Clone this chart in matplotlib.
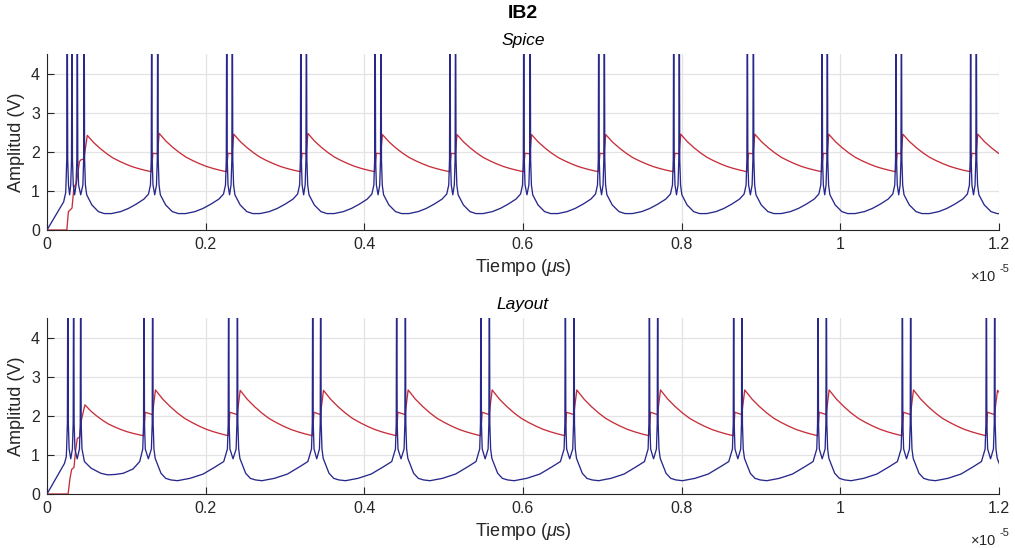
import numpy as np
import matplotlib
matplotlib.use("Agg")
import matplotlib.pyplot as plt
from matplotlib import font_manager

# ---------------------------------------------------------------------------
# Data (time in units of 1e-5 s, amplitude in V)
# ---------------------------------------------------------------------------
# Spike times of the blue trace, one list per burst
spice_bursts = [
    [0.0255, 0.0315, 0.0382, 0.0468],
    [0.1320, 0.1396],
    [0.2266, 0.2336],
    [0.3200, 0.3270],
    [0.4136, 0.4210],
    [0.5080, 0.5150],
    [0.6010, 0.6090],
    [0.6955, 0.7025],
    [0.7900, 0.7970],
    [0.8828, 0.8904],
    [0.9770, 0.9836],
    [1.0702, 1.0770],
    [1.1643, 1.1714],
]
layout_bursts = [
    [0.0263, 0.0336, 0.0425],
    [0.1223, 0.1332],
    [0.2290, 0.2400],
    [0.3350, 0.3450],
    [0.4408, 0.4517],
    [0.5470, 0.5576],
    [0.6534, 0.6643],
    [0.7593, 0.7698],
    [0.8656, 0.8760],
    [0.9719, 0.9824],
    [1.0782, 1.0887],
    [1.1841, 1.1946],
]

# Start-up ramp of the blue trace before the first spike
spice_blue_start_t = [0.0, 0.0210, 0.0235]
spice_blue_start_v = [0.0, 0.72, 0.95]
layout_blue_start_t = [0.0, 0.0220, 0.0243]
layout_blue_start_v = [0.0, 0.78, 0.95]

# Blue trace between bursts: fraction of the gap -> voltage
spice_gap_frac = [0.0, 0.02, 0.10, 0.20, 0.29, 0.40, 0.54, 0.66, 0.78, 0.90, 0.97, 1.0]
spice_gap_volt = [1.15, 0.90, 0.64, 0.47, 0.42, 0.42, 0.47, 0.55, 0.66, 0.79, 0.92, 1.15]
layout_gap_frac = [0.0, 0.017, 0.053, 0.096, 0.16, 0.23, 0.32, 0.49, 0.67, 0.84, 0.95, 1.0]
layout_gap_volt = [1.15, 0.91, 0.74, 0.53, 0.40, 0.36, 0.34, 0.40, 0.51, 0.70, 0.83, 1.15]
layout_first_gap_frac = [0.0, 0.04, 0.15, 0.31, 0.42, 0.55, 0.68, 0.84, 0.95, 1.0]
layout_first_gap_volt = [1.15, 0.83, 0.66, 0.53, 0.49, 0.50, 0.53, 0.64, 0.83, 1.15]

# Spike waveform around each spike time
spike_dt = [-0.0016, -0.0006, 0.0, 0.0006, 0.0016]
spike_v = [1.15, 1.8, 6.5, 1.8, 1.15]
intra_burst_trough = 0.90

# Red trace: start-up up to the first peak
spice_red_start_t = [0.0, 0.0250, 0.0270, 0.0315, 0.0340, 0.0370, 0.0410, 0.0425, 0.0465, 0.0508]
spice_red_start_v = [0.0, 0.0, 0.47, 0.56, 1.10, 1.20, 1.75, 1.79, 1.82, 2.42]
layout_red_start_t = [0.0, 0.0266, 0.0290, 0.0311, 0.0340, 0.0360, 0.0382, 0.0412, 0.0435, 0.0478]
layout_red_start_v = [0.0, 0.0, 0.40, 0.63, 0.68, 1.10, 1.42, 1.46, 1.90, 2.28]

# Red trace levels for bursts 2..N
spice_red_trough = [1.49, 1.49, 1.49, 1.49, 1.49, 1.49, 1.49, 1.49, 1.49, 1.49, 1.49, 1.49]
spice_red_step = [1.96, 1.96, 1.96, 1.96, 1.96, 1.96, 1.96, 1.96, 1.96, 1.96, 1.96, 1.96]
spice_red_step_end = [1.95, 1.95, 1.95, 1.95, 1.95, 1.95, 1.95, 1.95, 1.95, 1.95, 1.95, 1.95]
spice_red_peak = [2.47, 2.45, 2.47, 2.44, 2.44, 2.44, 2.44, 2.45, 2.45, 2.45, 2.45, 2.45]
spice_red_rise = 0.0018

layout_red_trough = [1.49, 1.49, 1.49, 1.49, 1.49, 1.49, 1.49, 1.49, 1.49, 1.49, 1.49]
layout_red_step = [2.09, 2.09, 2.09, 2.09, 2.09, 2.09, 2.09, 2.09, 2.09, 2.09, 2.09]
layout_red_step_end = [2.03, 2.03, 2.03, 2.03, 2.03, 2.03, 2.03, 2.03, 2.03, 2.03, 2.03]
layout_red_peak = [2.66, 2.65, 2.65, 2.66, 2.66, 2.66, 2.66, 2.66, 2.66, 2.66, 2.65]
layout_red_rise = 0.0035

# Red recovery between bursts: fraction of gap -> normalised level (peak=1, trough=0)
decay_frac = [0.0, 0.1, 0.2, 0.3, 0.4, 0.5, 0.6, 0.7, 0.8, 0.9, 1.0]
decay_level = [1.0, 0.80, 0.64, 0.50, 0.38, 0.29, 0.21, 0.14, 0.086, 0.04, 0.0]

x_ticks = [0, 0.2, 0.4, 0.6, 0.8, 1.0, 1.2]
x_tick_labels = ["0", "0.2", "0.4", "0.6", "0.8", "1", "1.2"]
y_ticks = [0, 1, 2, 3, 4]
T_END = 1.2


def build_blue(bursts, start_t, start_v, gap_shapes):
    ts, vs = list(start_t), list(start_v)
    period = np.mean(np.diff([b[0] for b in bursts]))
    for i, burst in enumerate(bursts):
        for j, s in enumerate(burst):
            ts += [s + d for d in spike_dt]
            vs += spike_v
            if j < len(burst) - 1:
                ts.append(0.5 * (s + burst[j + 1]))
                vs.append(intra_burst_trough)
        a = burst[-1] + spike_dt[-1]
        nxt = bursts[i + 1][0] if i + 1 < len(bursts) else burst[0] + period
        b = nxt + spike_dt[0]
        frac, volt = gap_shapes(i)
        ts += [a + f * (b - a) for f in frac[1:-1]]
        vs += volt[1:-1]
    return np.array(ts), np.array(vs)


def build_red(bursts, start_t, start_v, trough, step, step_end, peak, rise):
    ts, vs = list(start_t), list(start_v)
    period = np.mean(np.diff([b[0] for b in bursts]))
    p_t, p_v = ts[-1], vs[-1]
    nxt_list = [b[0] for b in bursts[1:]] + [bursts[-1][0] + period]
    for i, nxt in enumerate(nxt_list):
        end_t = nxt - 0.0005
        low = trough[i] if i < len(trough) else trough[-1]
        for f, g in zip(decay_frac[1:], decay_level[1:]):
            ts.append(p_t + f * (end_t - p_t))
            vs.append(low + g * (p_v - low))
        if i + 1 >= len(bursts):
            break
        b = bursts[i + 1]
        ts += [b[0] + 0.0015, b[1] - 0.0003, b[1] + rise]
        vs += [step[i], step_end[i], peak[i]]
        p_t, p_v = ts[-1], vs[-1]
    return np.array(ts), np.array(vs)


spice_blue = build_blue(spice_bursts, spice_blue_start_t, spice_blue_start_v,
                        lambda i: (spice_gap_frac, spice_gap_volt))
layout_blue = build_blue(layout_bursts, layout_blue_start_t, layout_blue_start_v,
                         lambda i: (layout_first_gap_frac, layout_first_gap_volt) if i == 0
                         else (layout_gap_frac, layout_gap_volt))
spice_red = build_red(spice_bursts, spice_red_start_t, spice_red_start_v,
                      spice_red_trough, spice_red_step, spice_red_step_end,
                      spice_red_peak, spice_red_rise)
layout_red = build_red(layout_bursts, layout_red_start_t, layout_red_start_v,
                       layout_red_trough, layout_red_step, layout_red_step_end,
                       layout_red_peak, layout_red_rise)

# ---------------------------------------------------------------------------
# Styling
# ---------------------------------------------------------------------------
available = {f.name for f in font_manager.fontManager.ttflist}
family = "Liberation Sans" if "Liberation Sans" in available else "DejaVu Sans"
plt.rcParams["font.family"] = [family, "DejaVu Sans"]
plt.rcParams["mathtext.fontset"] = "custom"
plt.rcParams["mathtext.rm"] = family
plt.rcParams["mathtext.it"] = family + ":italic"

TXT = "#262626"
BLUE = "#28288c"
RED = "#c62f3a"
GRID = "#e3e3e3"

fig = plt.figure(figsize=(10.15, 5.48), dpi=100)
fig.patch.set_facecolor("white")

W, H = 1015.0, 548.0
ax_top = fig.add_axes([47 / W, 1 - 230 / H, 952 / W, 176 / H])
ax_bot = fig.add_axes([47 / W, 1 - 494 / H, 952 / W, 176 / H])

panels = [
    (ax_top, spice_blue, spice_red, "Spice"),
    (ax_bot, layout_blue, layout_red, "Layout"),
]

for ax, blue, red, name in panels:
    t_r, v_r = red
    t_b, v_b = blue
    ax.plot(t_r, v_r, color=RED, lw=0.95, zorder=3)
    ax.plot(t_b, v_b, color=BLUE, lw=0.95, zorder=4)
    ax.set_xlim(0, T_END)
    ax.set_ylim(0, 4.5)
    ax.set_xticks(x_ticks)
    ax.set_xticklabels(x_tick_labels)
    ax.set_yticks(y_ticks)
    ax.grid(True, color=GRID, lw=0.9, zorder=0)
    ax.set_axisbelow(True)
    for s in ("top", "right"):
        ax.spines[s].set_visible(False)
    for s in ("left", "bottom"):
        ax.spines[s].set_color(TXT)
        ax.spines[s].set_linewidth(0.8)
    ax.tick_params(direction="in", length=5, width=0.8, colors=TXT,
                   labelsize=11.5, pad=5)
    ax.set_xlabel(r"Tiempo ($\mu$s)", fontsize=13, color=TXT, labelpad=4)
    ax.set_ylabel("Amplitud (V)", fontsize=13, color=TXT, labelpad=4)
    ax.text(0.5, 1.035, name, transform=ax.transAxes, ha="center", va="bottom",
            fontsize=12.5, style="italic", color="black")
    ax.text(0.997, -0.225, r"$\times$10", transform=ax.transAxes, ha="right",
            va="top", fontsize=10.5, color=TXT)
    ax.text(1.0, -0.195, "-5", transform=ax.transAxes, ha="left",
            va="top", fontsize=8, color=TXT)

fig.text(523 / W, 1 - 13 / H, "IB2", ha="center", va="center",
         fontsize=14, fontweight="bold", color="black")

fig.savefig("out.png", dpi=100, facecolor="white")
